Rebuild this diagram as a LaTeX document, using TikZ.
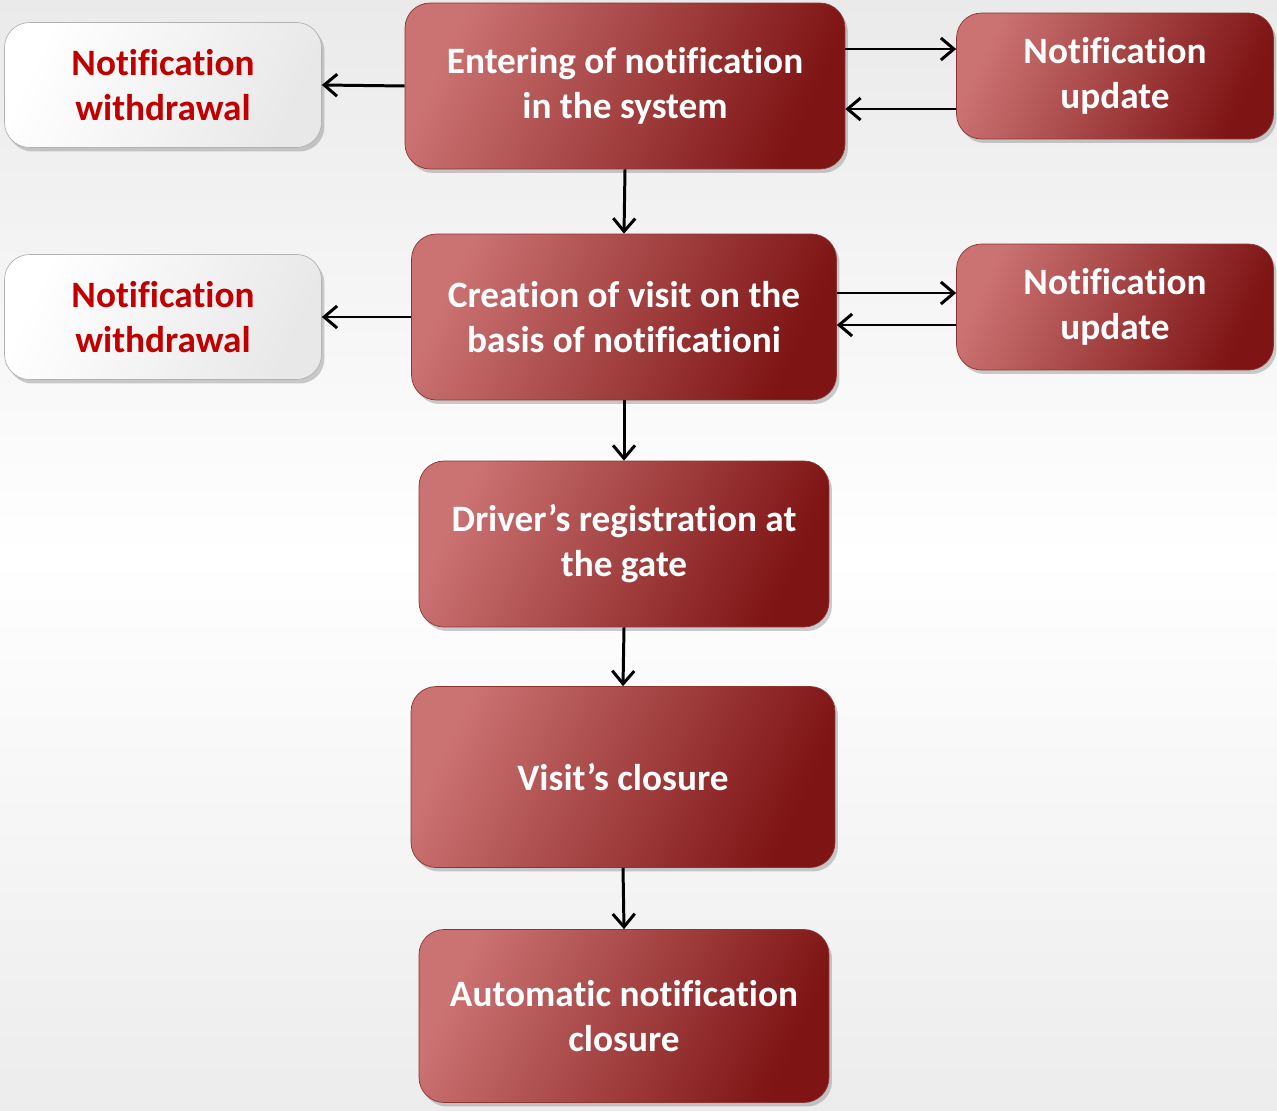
\documentclass[tikz,border=0pt]{standalone}
\usepackage{fontspec}
\setmainfont[Ligatures=NoCommon]{Carlito}
\usetikzlibrary{arrows.meta,shadows}
\definecolor{boxlight}{HTML}{CB7272}
\definecolor{boxdark}{HTML}{7E1414}
\definecolor{boxedge}{HTML}{8C3434}
\definecolor{wdtext}{HTML}{C00000}
\definecolor{bgtop}{HTML}{EAEAEA}
\definecolor{bgbot}{HTML}{ECECEC}
\begin{document}
\begin{tikzpicture}[x=0.02cm,y=-0.02cm,
    redbox/.style={rounded corners=0.5cm,draw=boxedge,thin,
      left color=boxlight,right color=boxdark,shading angle=65,
      drop shadow={shadow xshift=0.6mm,shadow yshift=-0.8mm,opacity=0.4},
      text=white,align=center,font=\fontsize{21.2}{25.5}\selectfont\bfseries},
    whitebox/.style={rounded corners=0.5cm,draw=gray!60,thin,
      left color=white,right color=gray!18,shading angle=65,
      drop shadow={shadow xshift=0.6mm,shadow yshift=-0.8mm,opacity=0.4},
      text=wdtext,align=center,font=\fontsize{21.2}{25.5}\selectfont\bfseries,
      minimum width=6.34cm,minimum height=2.5cm},
    flow/.style={-{Straight Barb[length=2.6mm,width=4.4mm]},line width=1.7pt}]
  % background
  \fill[top color=bgtop,bottom color=bgbot,middle color=white] (0,0) rectangle (1277,1111);
  \useasboundingbox (0,0) rectangle (1277,1111);

  \node[redbox,minimum width=8.8cm,minimum height=3.32cm] (enter) at (625,86)
    {Entering of notification\\in the system};
  \node[whitebox] (wd1) at (163,85) {Notification\\withdrawal};
  \node[redbox,minimum width=6.34cm,minimum height=2.52cm] (upd1) at (1115,76)
    {Notification\\update};

  \node[redbox,minimum width=8.5cm,minimum height=3.32cm] (visit) at (624,317)
    {Creation of visit on the\\basis of notificationi};
  \node[whitebox] (wd2) at (163,317) {Notification\\withdrawal};
  \node[redbox,minimum width=6.34cm,minimum height=2.52cm] (upd2) at (1115,307)
    {Notification\\update};

  \node[redbox,minimum width=8.2cm,minimum height=3.32cm] (gate) at (624,544)
    {Driver’s registration at\\the gate};
  \node[redbox,minimum width=8.48cm,minimum height=3.62cm] (close) at (623,777)
    {Visit’s closure};
  \node[redbox,minimum width=8.2cm,minimum height=3.46cm] (auto) at (624,1016)
    {Automatic notification\\closure};

  % side arrows
  \draw[flow] (enter.west) -- (wd1.east);
  \draw[flow] (enter.east |- 0,49) -- (upd1.west |- 0,49);
  \draw[flow] (upd1.west |- 0,109) -- (enter.east |- 0,109);
  \draw[flow] (visit.west) -- (wd2.east);
  \draw[flow] (visit.east |- 0,293) -- (upd2.west |- 0,293);
  \draw[flow] (upd2.west |- 0,325) -- (visit.east |- 0,325);

  % main flow
  \foreach \a/\b in {enter/visit,visit/gate,gate/close,close/auto}
    \draw[flow] (\a.south) -- (\b.north);
\end{tikzpicture}
\end{document}
